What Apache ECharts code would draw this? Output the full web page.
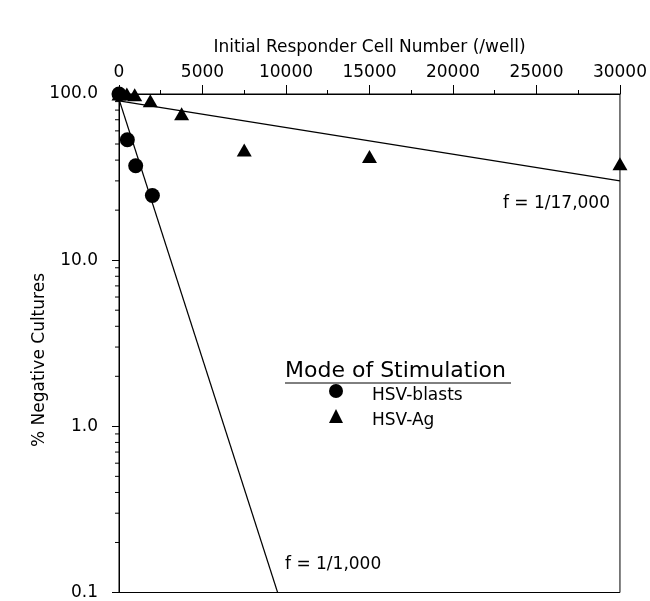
<!DOCTYPE html>
<html style="height: 100%">
<head>
    <meta charset="utf-8">
</head>
<body style="height: 100%; margin: 0; background: #fff">
<div id="chart_container" style="height: 601px; width: 650px"></div>
<script src="https://cdn.jsdelivr.net/npm/echarts@6/dist/echarts.min.js"></script>
<script type="text/javascript">
    // cell numbers per well and % negative cultures
    var blastsX = [0, 500, 1000, 2000];
    var blastsY = [100, 53, 37, 24.5];
    var agX = [0, 470, 940, 1875, 3750, 7500, 15000, 30000];
    var agY = [100, 100, 99, 91, 76, 46, 42, 38];
    // fitted lines (end points)
    var fitBlasts = [[0, 93], [9500, 0.1]];
    var fitAg = [[0, 91], [30000, 30]];
    var xTicks = [0, 5000, 10000, 15000, 20000, 25000, 30000];
    var yMinorTicks = [0.2, 0.3, 0.4, 0.5, 0.6, 0.7, 0.8, 0.9, 2, 3, 4, 5, 6, 7, 8, 9, 20, 30, 40, 50, 60, 70, 80, 90];

    var font = 'DejaVu Sans';
    var ink = '#000';

    function pairs(xs, ys) {
        return xs.map(function (x, i) { return [x, ys[i]]; });
    }

    var chart = echarts.init(document.getElementById('chart_container'));

    var option = {
        backgroundColor: '#fff',
        animation: false,
        textStyle: { fontFamily: font, color: ink },
        grid: {
            left: 119, right: 29, top: 94, bottom: 8,
            show: true, borderColor: ink, borderWidth: 1
        },
        legend: {
            orient: 'vertical',
            left: 324,
            top: 379,
            itemWidth: 14,
            itemHeight: 14,
            itemGap: 5,
            data: ['HSV-blasts', 'HSV-Ag'],
            formatter: '{t|{name}}',
            textStyle: {
                fontFamily: font, fontSize: 17, color: ink, padding: [0, 0, 0, 24],
                rich: { t: { fontFamily: font, fontSize: 17, color: ink, padding: [9, 0, 0, 0] } }
            }
        },
        xAxis: {
            type: 'value',
            position: 'top',
            min: 0,
            max: 30000,
            interval: 5000,
            name: 'Initial Responder Cell Number (/well)',
            nameLocation: 'middle',
            nameGap: 38,
            nameTextStyle: { fontFamily: font, fontSize: 17, color: ink },
            axisLine: { lineStyle: { color: ink, width: 1 } },
            axisTick: { show: true, inside: false, length: 9, lineStyle: { color: ink } },
            minorTick: { show: true, splitNumber: 2, length: 4, lineStyle: { color: ink } },
            splitLine: { show: false },
            axisLabel: {
                fontFamily: font, fontSize: 17, color: ink, margin: 13,
                customValues: xTicks,
                formatter: function (v) { return String(v); }
            }
        },
        yAxis: {
            type: 'log',
            logBase: 10,
            min: 0.1,
            max: 100,
            axisLine: { show: true, lineStyle: { color: ink, width: 1 } },
            axisTick: { show: true, inside: false, length: 7, lineStyle: { color: ink } },
            splitLine: { show: false },
            axisLabel: {
                fontFamily: font, fontSize: 17, color: ink, margin: 21,
                formatter: function (v) { return Number(v).toFixed(1); }
            }
        },
        graphic: [
            {
                // y axis title
                type: 'text', x: 40, y: 360, rotation: Math.PI / 2,
                style: {
                    text: '% Negative Cultures', font: '17px "DejaVu Sans"', fill: ink,
                    align: 'center', verticalAlign: 'middle'
                }
            },
            {
                type: 'text', left: 285, top: 360,
                style: { text: 'Mode of Stimulation', font: '22px "DejaVu Sans"', fill: ink }
            },
            {
                type: 'line', shape: { x1: 285, y1: 383, x2: 511, y2: 383 },
                style: { stroke: ink, lineWidth: 1 }
            },
            {
                type: 'text', right: 40, top: 195,
                style: { text: 'f = 1/17,000', font: '17px "DejaVu Sans"', fill: ink }
            },
            {
                type: 'text', left: 285, top: 556,
                style: { text: 'f = 1/1,000', font: '17px "DejaVu Sans"', fill: ink }
            }
        ],
        series: [
            {
                name: 'fit-blasts', type: 'line', data: fitBlasts, showSymbol: false, silent: true,
                lineStyle: { color: ink, width: 1.2 }, z: 1
            },
            {
                name: 'fit-ag', type: 'line', data: fitAg, showSymbol: false, silent: true,
                lineStyle: { color: ink, width: 1.2 }, z: 1
            },
            {
                name: 'HSV-blasts', type: 'scatter', symbol: 'circle', symbolSize: 15,
                itemStyle: { color: ink, opacity: 1 }, data: pairs(blastsX, blastsY), z: 3
            },
            {
                name: 'HSV-Ag', type: 'scatter', symbol: 'triangle', symbolSize: [15, 13],
                itemStyle: { color: ink, opacity: 1 }, data: pairs(agX, agY), z: 3
            },
            {
                // minor log ticks on the left axis
                name: 'minor-ticks', type: 'custom', silent: true,
                data: yMinorTicks.map(function (v) { return [0, v]; }),
                renderItem: function (params, api) {
                    var p = api.coord([0, api.value(1)]);
                    return {
                        type: 'line',
                        shape: { x1: p[0] - 4, y1: p[1], x2: p[0], y2: p[1] },
                        style: { stroke: ink, lineWidth: 1 }
                    };
                },
                clip: false,
                z: 2
            }
        ]
    };

    chart.setOption(option);
</script>
</body>
</html>
